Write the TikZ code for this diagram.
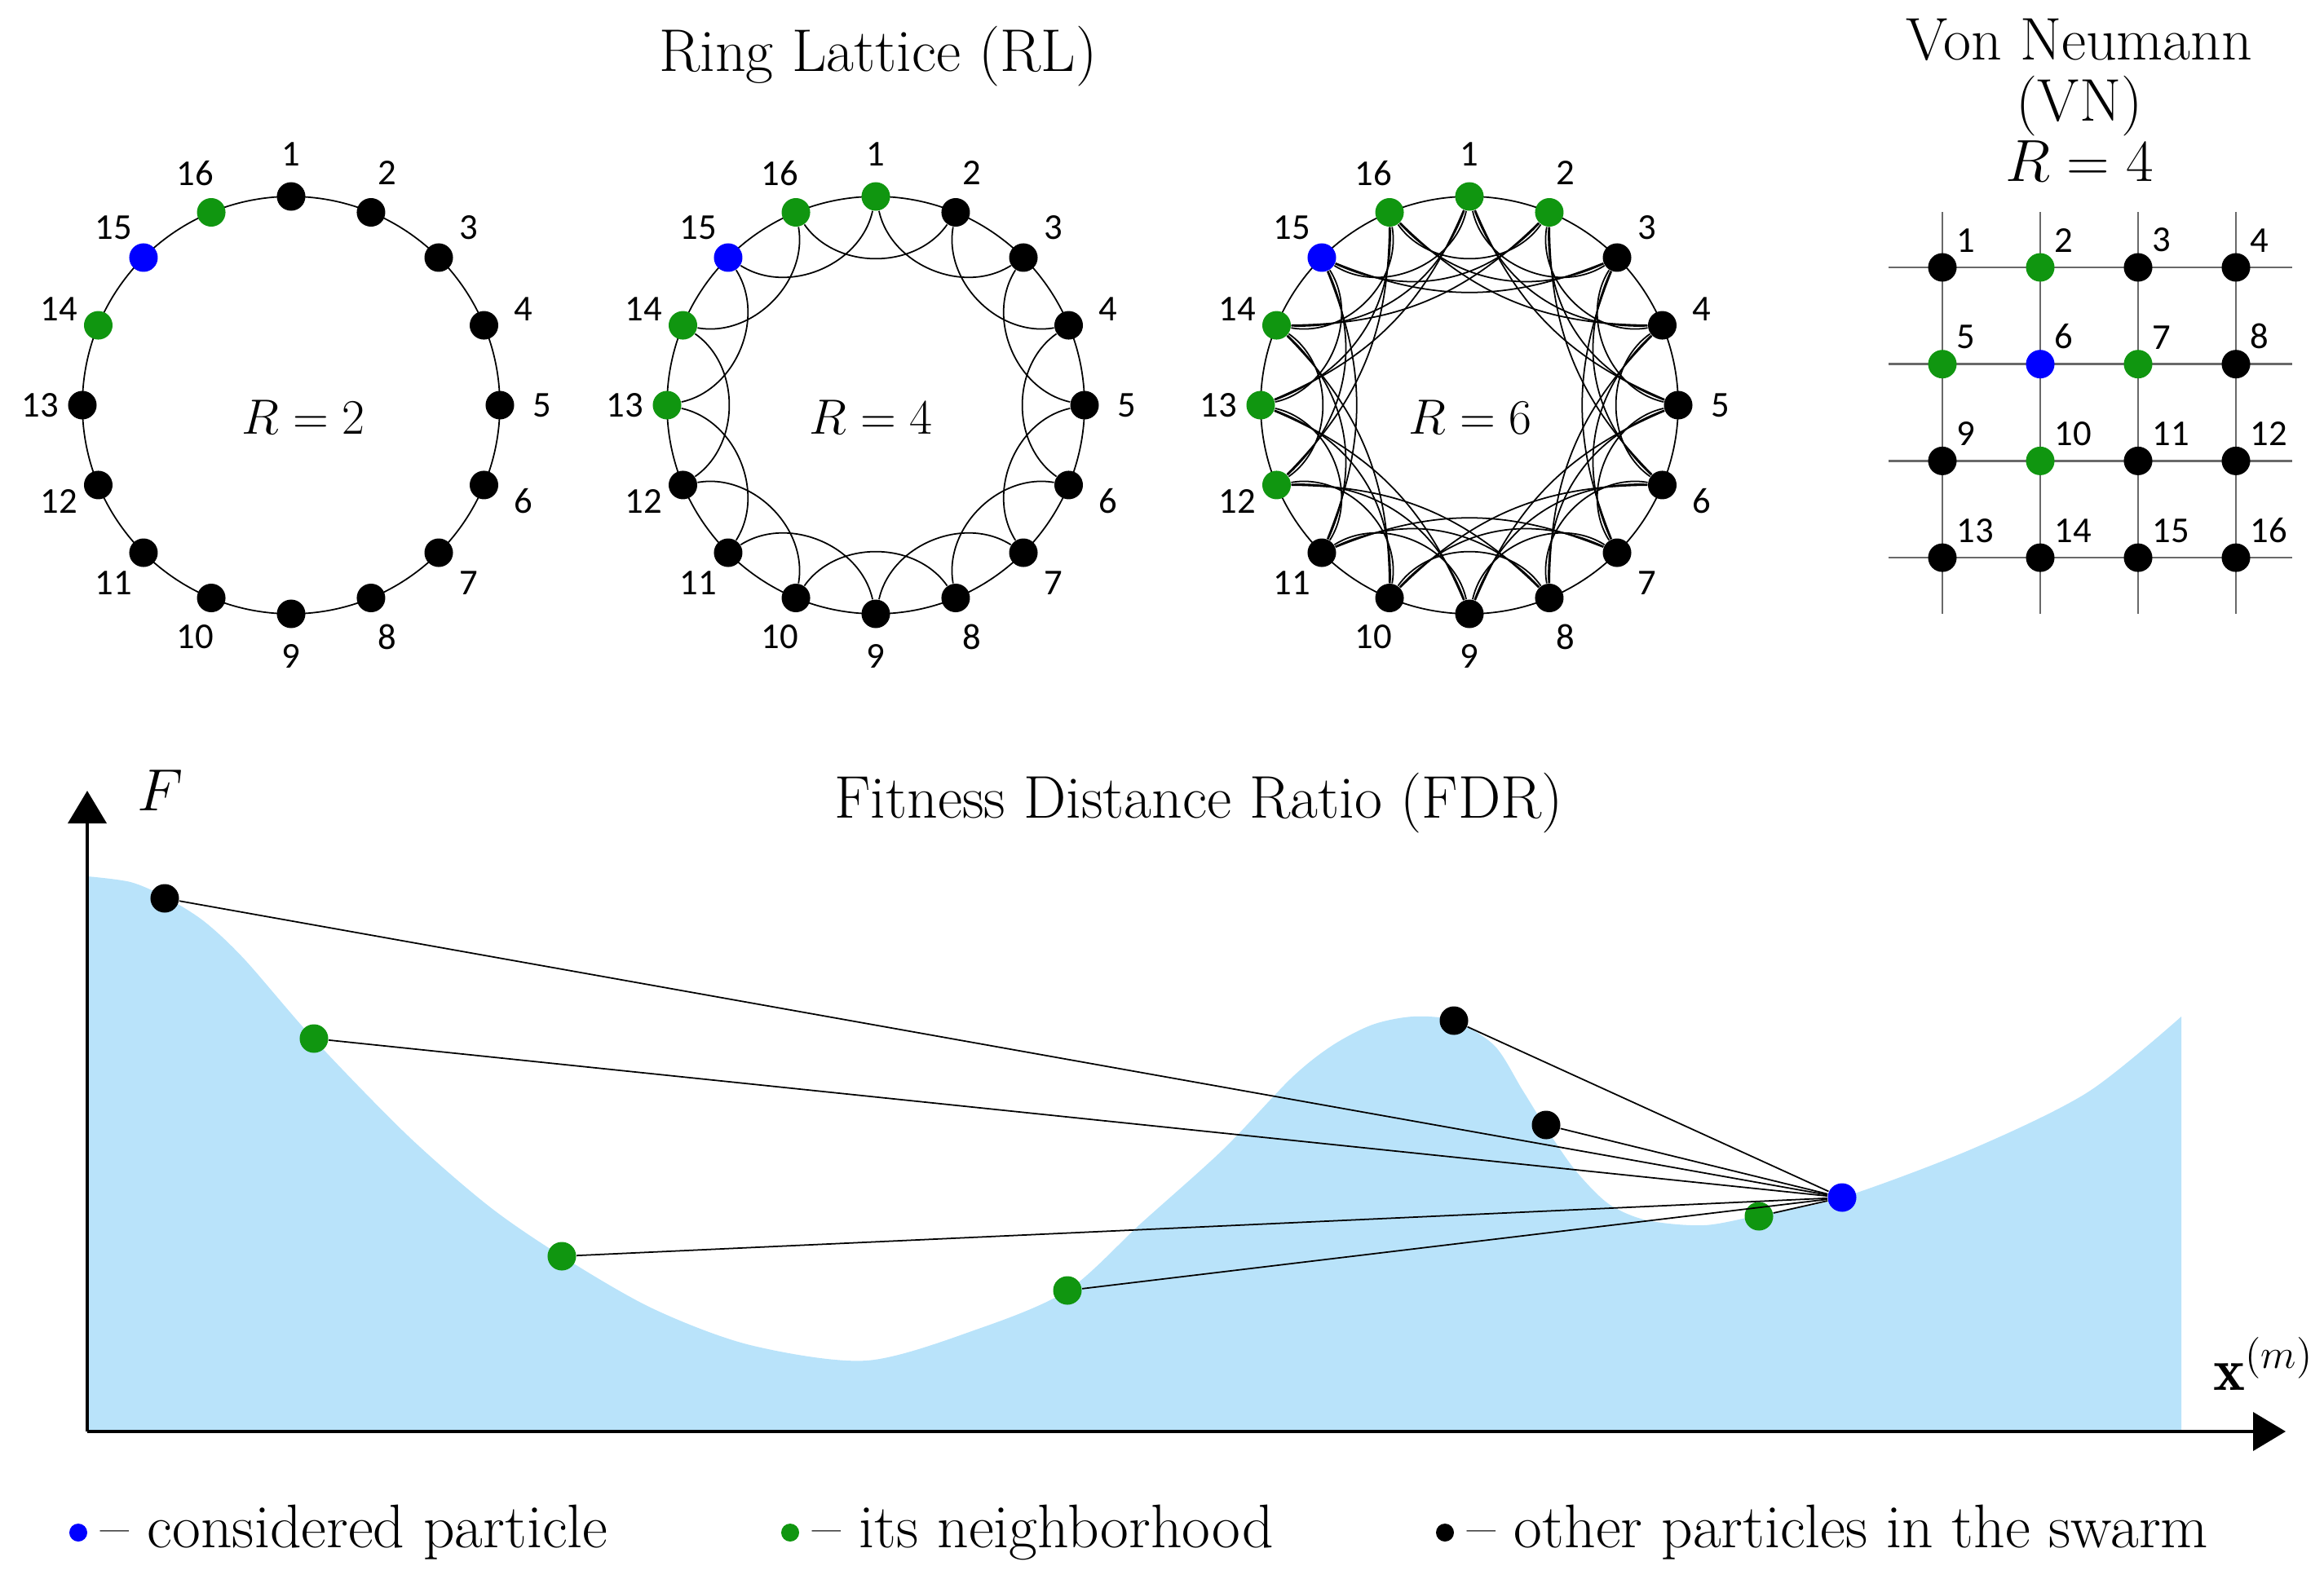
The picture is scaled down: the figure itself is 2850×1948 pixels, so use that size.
\documentclass[tikz,border=0pt]{standalone}
\usepackage{fontspec}
\usepackage{tikz}
\usetikzlibrary{positioning,arrows.meta,backgrounds}
\newfontfamily\numfont{Carlito}
\definecolor{pblue}{RGB}{0,0,255}
\definecolor{pgreen}{RGB}{16,150,16}
\definecolor{landblue}{RGB}{185,227,250}
\definecolor{latgray}{RGB}{105,105,105}
\tikzset{dot/.style={circle,fill=black,inner sep=0pt,minimum size=0.35cm},
  nbh/.style={fill=pgreen},cons/.style={fill=pblue},
  num/.style={font=\numfont\fontsize{12.7}{14}\selectfont,inner sep=0pt},
  title/.style={font=\fontsize{21}{21.3}\selectfont,inner sep=0pt},
  legtext/.style={font=\fontsize{21.5}{22}\selectfont,inner sep=0pt},
  rval/.style={font=\fontsize{19}{20}\selectfont,anchor=base,inner sep=0pt},
  ring/.style={line width=0.5pt},
  link/.style={line width=0.5pt},
  near2/.style={bend right=55},
  near3/.style={bend right=36},
  near4/.style={bend right=22},
  latline/.style={latgray,line width=0.7pt},
  axis/.style={line width=1.1pt,-{Triangle[width=0.47cm,length=0.4cm]}},
  % who is who in each picture
  ra-14/.style=nbh,ra-15/.style=cons,ra-16/.style=nbh,
  rb-13/.style=nbh,rb-14/.style=nbh,rb-15/.style=cons,rb-16/.style=nbh,rb-1/.style=nbh,
  rc-12/.style=nbh,rc-13/.style=nbh,rc-14/.style=nbh,rc-15/.style=cons,rc-16/.style=nbh,
  rc-1/.style=nbh,rc-2/.style=nbh,
  vn-2/.style=nbh,vn-5/.style=nbh,vn-6/.style=cons,vn-7/.style=nbh,vn-10/.style=nbh}

\begin{document}
\begin{tikzpicture}[x=0.01cm,y=-0.01cm]
  \useasboundingbox (0,0) rectangle (2850,1948);

  \node[title,anchor=base] (rl) at (1077,87) {Ring Lattice (RL)};

  % R = 2
  \begin{scope}[shift={(357,497)}]
    \draw[ring] (0,0) circle (256);
    \foreach \k in {1,...,16}{
      \node[dot,ra-\k/.try] (a\k) at ({22.5*\k-112.5}:256) {};
      \node[num] at ({22.5*\k-112.5}:308) {\k};
    }
    \node[rval] at (15,35) {$R=2$};
  \end{scope}

  % R = 4
  \begin{scope}[shift={(1074,497)}]
    \draw[ring] (0,0) circle (256);
    \foreach \k in {1,...,16}{
      \node[dot,rb-\k/.try] (b\k) at ({22.5*\k-112.5}:256) {};
      \node[num] at ({22.5*\k-112.5}:308) {\k};
    }
    \node[rval] at (-6,35) {$R=4$};
  \end{scope}
  \foreach \k in {1,...,16}{
    \pgfmathtruncatemacro{\n}{mod(\k+1,16)+1}
    \draw[link] (b\k) to[near2] (b\n);
  }

  % R = 6
  \begin{scope}[shift={(1802,497)}]
    \draw[ring] (0,0) circle (256);
    \foreach \k in {1,...,16}{
      \node[dot,rc-\k/.try] (c\k) at ({22.5*\k-112.5}:256) {};
      \node[num] at ({22.5*\k-112.5}:308) {\k};
    }
    \node[rval] at (1,35) {$R=6$};
  \end{scope}
  \foreach \k in {1,...,16}{
    \pgfmathtruncatemacro{\n}{mod(\k+1,16)+1}
    \pgfmathtruncatemacro{\m}{mod(\k+2,16)+1}
    \pgfmathtruncatemacro{\l}{mod(\k+3,16)+1}
    \draw[link] (c\k) to[near2] (c\n);
    \draw[link] (c\k) to[near3] (c\m);
    \draw[link] (c\k) to[near4] (c\l);
  }

  % Von Neumann
  \node[title,align=center,anchor=north] (vn) at (2550,22) {Von Neumann\\(VN)\\$R=4$};
  \foreach \r in {0,...,3}
    \foreach \c in {0,...,3}{
      \pgfmathtruncatemacro{\k}{4*\r+\c+1}
      \node[dot,vn-\k/.try] (v\k) at (2382+120*\c,328+118.7*\r) {};
      \node[num,anchor=south west] at ([shift={(17,-18)}]v\k.center) {\k};
    }
  \begin{scope}[on background layer]
    \foreach \r in {1,5,9,13}{
      \pgfmathtruncatemacro{\e}{\r+3}
      \draw[latline] ([xshift=-0.66cm]v\r.center) -- ([xshift=0.69cm]v\e.center);
    }
    \foreach \c in {1,...,4}{
      \pgfmathtruncatemacro{\e}{\c+12}
      \draw[latline] ([yshift=0.68cm]v\c.center) -- ([yshift=-0.69cm]v\e.center);
    }
  \end{scope}

  % FDR
  \node[title,anchor=base] (fdr) at (1470,1003) {Fitness Distance Ratio (FDR)};
  \fill[landblue] (107,1756) -- plot[smooth,tension=0.5] coordinates {
    (107,1075) (160,1082) (202,1100) (250,1130) (300,1177) (386,1276) (500,1393)
    (600,1480) (689,1541) (800,1605) (920,1650) (1063,1669) (1200,1630) (1309,1583)
    (1400,1500) (1500,1410) (1583,1323) (1633,1283) (1683,1257) (1733,1247)
    (1783,1252) (1833,1283) (1867,1337) (1900,1390) (1933,1437) (1973,1477)
    (2020,1497) (2090,1503) (2160,1490) (2259,1469) (2417,1410) (2560,1340)
    (2675,1247)} -- (2675,1756) -- cycle;
  \coordinate (o) at (107,1756);
  \coordinate (ytop) at (107,970);
  \coordinate (xend) at (2803,1756);
  \draw[axis] (o) -- (ytop);
  \draw[axis] (o) -- (xend);
  \node[font=\fontsize{21}{22}\selectfont] (f) at (197,970) {$F$};
  \node[font=\fontsize{21}{22}\selectfont] (xm) at (2776,1673) {$\mathbf{x}^{(m)}$};

  \node[dot] (o1) at (202,1102) {};
  \node[dot,nbh] (n1) at (385,1274) {};
  \node[dot,nbh] (n2) at (689,1541) {};
  \node[dot,nbh] (n3) at (1309,1583) {};
  \node[dot] (o2) at (1783,1252) {};
  \node[dot] (o3) at (1896,1380) {};
  \node[dot,nbh] (n4) at (2157,1492) {};
  \node[dot,cons] (me) at (2259,1469) {};
  \foreach \p in {o1,n1,n2,n3,o2,o3,n4}
    \draw[link] (me) -- (\p);

  % legend
  \node[dot,cons,minimum size=0.22cm] (lc) at (96,1880) {};
  \node[legtext,right=0.15cm of lc] (tc) {-- considered particle};
  \node[dot,nbh,minimum size=0.22cm] (ln) at (969,1880) {};
  \node[legtext,right=0.15cm of ln] (tn) {-- its neighborhood};
  \node[dot,minimum size=0.22cm] (lo) at (1772,1880) {};
  \node[legtext,right=0.15cm of lo] (to) {-- other particles in the swarm};
\end{tikzpicture}
\end{document}
